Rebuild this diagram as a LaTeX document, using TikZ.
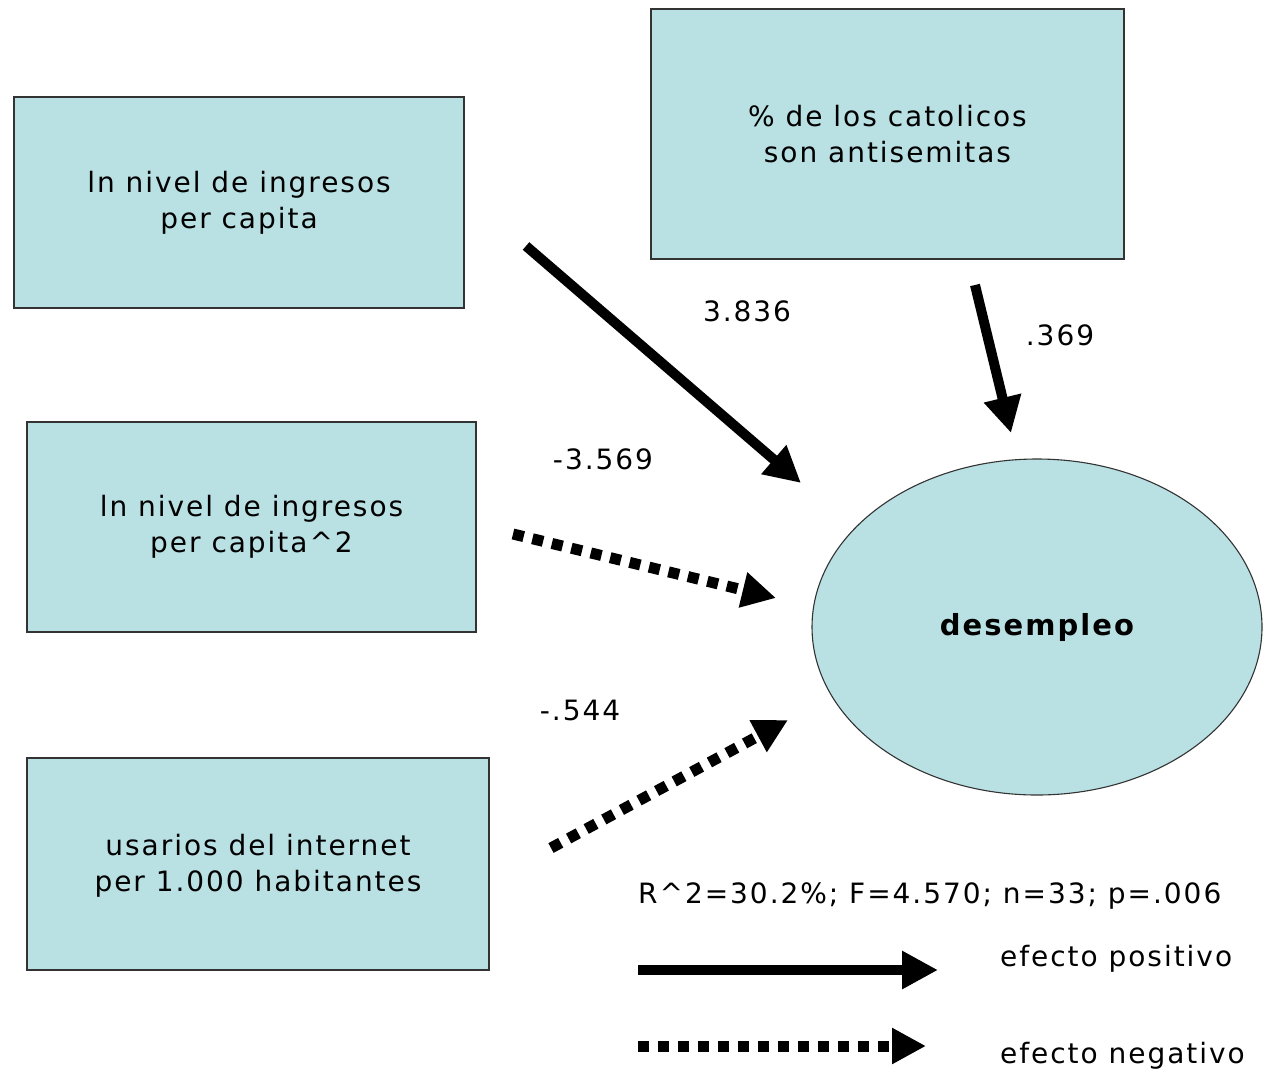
\documentclass[tikz,border=0pt]{standalone}
\usepackage{fontspec}
\setmainfont[LetterSpace=7]{DejaVu Sans}
\usetikzlibrary{arrows.meta,shapes.geometric}
\definecolor{boxfill}{HTML}{B9E0E3}
\begin{document}
\begin{tikzpicture}[x=1pt,y=-1pt,
  box/.style={draw=black!80,line width=1.1pt,fill=boxfill,inner sep=0pt},
  lbl/.style={font=\fontsize{28}{36}\selectfont,align=center,inner sep=0pt},
  posarrow/.style={line width=10pt,-{Triangle[length=36pt,width=36pt]}},
  negarrow/.style={line width=11pt,dash pattern=on 11pt off 9pt,-{Triangle[length=34pt,width=34pt]}}]
\useasboundingbox (0,0) rectangle (1265,1073);
% boxes
\node[box,minimum width=450pt,minimum height=211pt] (A) at (239,202.5) {};
\node[lbl] at (239,203) {ln nivel de ingresos\\per capita};
\node[box,minimum width=473pt,minimum height=250pt] (B) at (887.5,134) {};
\node[lbl] at (B) {\% de los catolicos\\son antisemitas};
\node[box,minimum width=449pt,minimum height=210pt] (C) at (251.5,527) {};
\node[lbl] at (C) {ln nivel de ingresos\\per capita\^{}2};
\node[box,minimum width=462pt,minimum height=212pt] (D) at (258,864) {};
\node[lbl] at (258,866) {usarios del internet\\per 1.000 habitantes};
\node[box,ellipse,minimum width=450pt,minimum height=336pt] (E) at (1037,627) {};
\node[font=\fontsize{29}{34}\selectfont\bfseries] at (E) {desempleo};
% arrow end points
\coordinate (a1s) at (526,246);
\coordinate (a1e) at (801,483);
\coordinate (a2s) at (975,285);
\coordinate (a2e) at (1011,433);
\coordinate (a3s) at (513,534);
\coordinate (a3e) at (776,598);
\coordinate (a4s) at (551,848);
\coordinate (a4e) at (788,720);
\draw[posarrow] (a1s) -- (a1e);
\draw[posarrow] (a2s) -- (a2e);
\draw[negarrow] (a3s) -- (a3e);
\draw[negarrow] (a4s) -- (a4e);
% labels
\node[lbl] (l1) at (747,311) {3.836};
\node[lbl] (l2) at (1060,335) {.369};
\node[lbl] (l3) at (603,459) {-3.569};
\node[lbl] (l4) at (580,710) {-.544};
% legend
\node[lbl,anchor=west] (stat) at (638,896) {R\^{}2=30.2\%; F=4.570; n=33; p=.006};
\coordinate (p1) at (638,970);
\coordinate (p2) at (938,970);
\coordinate (n1) at (638,1046);
\coordinate (n2) at (926,1046);
\draw[posarrow] (p1) -- (p2);
\draw[negarrow] (n1) -- (n2);
\node[lbl,anchor=west] (ep) at (1000,959) {efecto positivo};
\node[lbl,anchor=west] (en) at (1000,1056) {efecto negativo};
\end{tikzpicture}
\end{document}
